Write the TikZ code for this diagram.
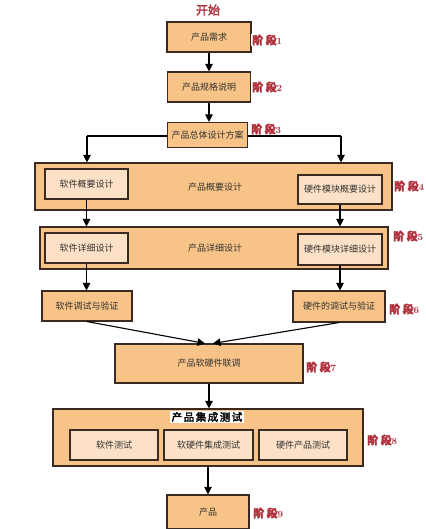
\documentclass[tikz,border=0pt]{standalone}
\usepackage{fontspec}
\newfontfamily\cjk{Noto Sans CJK SC}
\newfontfamily\cjkb[FakeBold=2.5]{Noto Sans CJK SC}
\usetikzlibrary{arrows.meta}
\definecolor{orfill}{HTML}{F8C387}
\definecolor{infill}{HTML}{FCE1C6}
\definecolor{bord}{HTML}{3A2A22}
\definecolor{lab}{HTML}{B0303C}
\definecolor{txt}{HTML}{333333}
\begin{document}
\begin{tikzpicture}[x=1pt,y=-1pt,
  box/.style={draw=bord,line width=1.1pt,fill=orfill,minimum width=#1,inner sep=0pt,
    font=\cjk\fontsize{9}{10}\selectfont,text=txt},
  inbox/.style={box=#1,fill=infill},
  outbox/.style={draw=bord,line width=1.1pt,fill=orfill,minimum width=#1,inner sep=0pt},
  plain/.style={font=\cjk\fontsize{9}{10}\selectfont,text=txt,inner sep=0pt},
  stage/.style={anchor=west,text=lab,fill=white,inner sep=1pt,font=\fontsize{9.5}{12}\selectfont\bfseries},
  conn/.style={draw=black,line width=1.1pt},
  arr/.style={conn,-{Triangle[length=7.5pt,width=7.5pt]}}
]
\useasboundingbox[fill=white] (0,0) rectangle (425,529);
% branch line behind n3
\coordinate (bl) at (87,136);
\coordinate (br) at (341,136);
\draw[conn] (bl) -- (br);

\node[text=lab,font=\cjkb\fontsize{12}{13}\selectfont,inner sep=0pt] (start) at (208,10) {开始};
\node[box=84pt,minimum height=30pt] (n1) at (209,37) {产品需求};
\node[box=83pt,minimum height=30pt] (n2) at (209,87) {产品规格说明};
\node[box=80pt,minimum height=25pt] (n3) at (207.5,135) {产品总体设计方案};

\node[outbox=357pt,minimum height=47pt] (o4) at (213.5,186.5) {};
\node[plain] (c4) at (215,187) {产品概要设计};
\node[inbox=83pt,minimum height=30pt] (s4) at (86.5,184) {软件概要设计};
\node[inbox=84pt,minimum height=29pt] (h4) at (340,189.5) {硬件模块概要设计};

\node[outbox=348pt,minimum height=42pt] (o5) at (214,248) {};
\node[plain] (c5) at (215,248) {产品详细设计};
\node[inbox=83pt,minimum height=30pt] (s5) at (86.5,248) {软件详细设计};
\node[inbox=84pt,minimum height=31pt] (h5) at (340,249.5) {硬件模块详细设计};

\node[box=90pt,minimum height=30pt] (s6) at (87,306) {软件调试与验证};
\node[box=92pt,minimum height=31pt] (h6) at (339,306.5) {硬件的调试与验证};

\node[box=188pt,minimum height=39pt] (n7) at (209,363.5) {产品软硬件联调};

\node[outbox=310pt,minimum height=57pt] (o8) at (208,437.5) {};
\node[fill=white,inner sep=1.5pt,font=\cjkb\fontsize{10.5}{12}\selectfont,text=black] (t8) at (207,417) {产\hspace{1.5pt}品\hspace{1.5pt}集\hspace{1.5pt}成\hspace{1.5pt}测\hspace{1.5pt}试};
\node[inbox=88pt,minimum height=30pt] (t1) at (114,445) {软件测试};
\node[inbox=89pt,minimum height=30pt] (t2) at (208.5,445) {软硬件集成测试};
\node[inbox=88pt,minimum height=30pt] (t3) at (303,445) {硬件产品测试};

\node[box=82pt,minimum height=34pt] (n9) at (208,512) {产品};

% stage labels
\node[stage] (l1) at (251,40) {{\cjkb\fontsize{11}{12}\selectfont 阶\hspace{2.5pt}段}1};
\node[stage] (l2) at (251,87) {{\cjkb\fontsize{11}{12}\selectfont 阶\hspace{2.5pt}段}2};
\node[stage] (l3) at (250,129) {{\cjkb\fontsize{11}{12}\selectfont 阶\hspace{2.5pt}段}3};
\node[stage] (l4) at (393,186) {{\cjkb\fontsize{11}{12}\selectfont 阶\hspace{2.5pt}段}4};
\node[stage] (l5) at (392,236) {{\cjkb\fontsize{11}{12}\selectfont 阶\hspace{2.5pt}段}5};
\node[stage] (l6) at (388,309) {{\cjkb\fontsize{11}{12}\selectfont 阶\hspace{2.5pt}段}6};
\node[stage] (l7) at (305,367) {{\cjkb\fontsize{11}{12}\selectfont 阶\hspace{2.5pt}段}7};
\node[stage] (l8) at (366,440) {{\cjkb\fontsize{11}{12}\selectfont 阶\hspace{2.5pt}段}8};
\node[stage] (l9) at (252,513) {{\cjkb\fontsize{11}{12}\selectfont 阶\hspace{2.5pt}段}9};

% connectors
\draw[arr] (n1.south) -- (n2.north);
\draw[arr] (n2.south) -- (n2.south |- n3.north);
\draw[arr] (bl) -- (bl |- o4.north);
\draw[arr] (br) -- (br |- o4.north);
\draw[arr] (s4.south) -- (s4.south |- o5.north);
\draw[arr] (h4.south) -- (h4.south |- o5.north);
\draw[arr] (s5.south) -- (s5.south |- s6.north);
\draw[arr] (h5.south) -- (h5.south |- h6.north);
\draw[arr] (s6.south) -- ([xshift=-4pt]n7.north);
\draw[arr] (h6.south) -- ([xshift=4pt]n7.north);
\draw[arr] (n7.south) -- (n7.south |- o8.north);
\draw[arr] (o8.south) -- (n9.north);
\end{tikzpicture}
\end{document}
